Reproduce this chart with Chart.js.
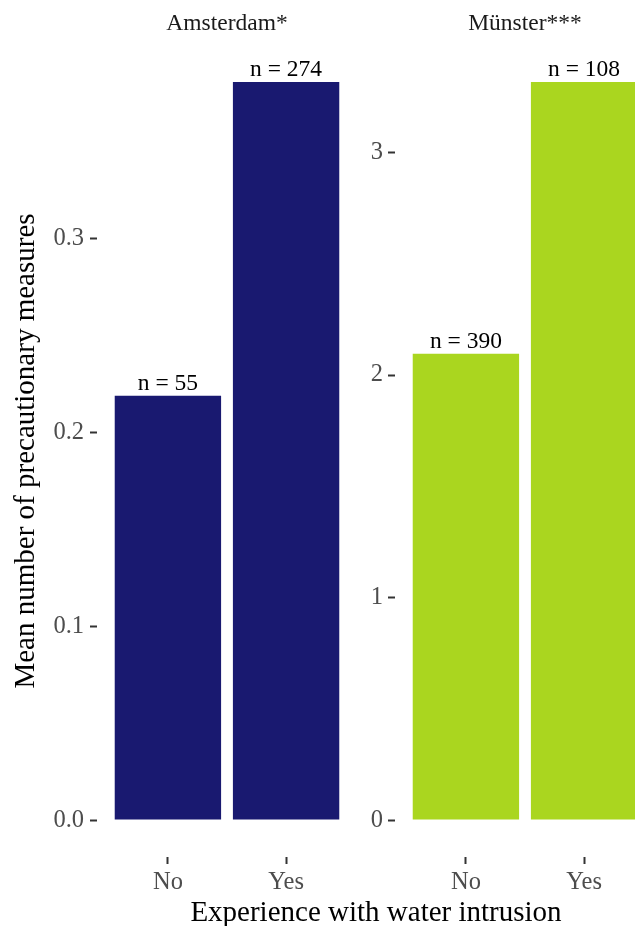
<!DOCTYPE html>
<html>
<head>
<meta charset="utf-8">
<script src="https://cdn.jsdelivr.net/npm/chart.js@4"></script>
<style>
  html, body { margin: 0; padding: 0; overflow: hidden; background: #fff; }
  #wrap { position: relative; width: 635px; height: 926px; overflow: hidden; }
  #wrap canvas { position: absolute; top: 0; }
  #xTitle {
    position: absolute; left: 97px; width: 558px; top: 896px;
    text-align: center; font: 29px "Liberation Serif", serif; line-height: 30px; color: #000;
  }
</style>
</head>
<body>
<div id="wrap">
  <canvas id="chartA" width="360" height="926" style="left:0"></canvas>
  <canvas id="chartB" width="360" height="926" style="left:298px"></canvas>
  <div id="xTitle">Experience with water intrusion</div>
</div>
<script>
// data
const categories = ['No', 'Yes'];
const cities = ['Amsterdam*', 'Münster***'];
const meansAmsterdam = [0.219, 0.381];
const meansMuenster = [2.096, 3.317];
const nAmsterdam = [55, 274];
const nMuenster = [390, 108];
const ticksAmsterdam = [0.0, 0.1, 0.2, 0.3];
const ticksMuenster = [0, 1, 2, 3];

const SERIF = '"Liberation Serif", "Times New Roman", serif';
const TICK_GREY = '#4d4d4d';

// writes "n = .." on top of each bar
const nLabelPlugin = {
    id: 'nLabels',
    afterDatasetsDraw(chart, args, opts) {
        const ctx = chart.ctx;
        const meta = chart.getDatasetMeta(0);
        ctx.save();
        ctx.font = '23.5px ' + SERIF;
        ctx.fillStyle = '#000';
        ctx.textAlign = 'center';
        ctx.textBaseline = 'bottom';
        meta.data.forEach((bar, i) => {
            ctx.fillText('n = ' + opts.counts[i], bar.x, bar.y);
        });
        ctx.restore();
    }
};

function makePanel(canvasId, title, means, counts, yTicks, color, opts) {
    const top = Math.max(...means);
    const ctx = document.getElementById(canvasId).getContext('2d');
    return new Chart(ctx, {
        type: 'bar',
        data: {
            datasets: [{
                data: means.map((v, i) => ({ x: i + 1, y: v })),
                backgroundColor: color,
                borderWidth: 0,
                barPercentage: 0.9,
                categoryPercentage: 1
            }]
        },
        options: {
            responsive: false,
            animation: false,
            layout: { padding: { left: 0, right: 3, top: 0, bottom: 0 } },
            plugins: {
                legend: { display: false },
                tooltip: { enabled: false },
                title: {
                    display: true,
                    text: title,
                    fullSize: false,
                    color: '#1a1a1a',
                    font: { family: SERIF, size: 23.5, weight: 'normal' },
                    padding: { top: 10, bottom: 6.8 }
                },
                nLabels: { counts: counts }
            },
            scales: {
                x: {
                    type: 'linear',
                    offset: false,
                    min: 0.4,
                    max: 2.6,
                    afterBuildTicks: (s) => { s.ticks = categories.map((c, i) => ({ value: i + 1 })); },
                    afterFit: (s) => { s.height = 69; },
                    ticks: {
                        callback: (v) => categories[v - 1],
                        color: TICK_GREY,
                        font: { family: SERIF, size: 24.5 },
                        padding: 3.5,
                        maxRotation: 0
                    },
                    grid: { offset: false, drawOnChartArea: false, tickLength: 7, tickColor: '#333', tickWidth: 2 },
                    border: { display: false }
                },
                y: {
                    min: -0.05 * top,
                    max: 1.05 * top,
                    afterBuildTicks: (s) => { s.ticks = yTicks.map(v => ({ value: v })); },
                    afterFit: (s) => { s.width = 97; },
                    ticks: {
                        callback: (v) => opts.digits ? v.toFixed(opts.digits) : String(v),
                        color: TICK_GREY,
                        font: { family: SERIF, size: 24.5 },
                        padding: opts.tickPad
                    },
                    grid: { drawOnChartArea: false, tickLength: 7, tickColor: '#333', tickWidth: 2 },
                    border: { display: false },
                    title: {
                        display: !!opts.yTitle,
                        text: opts.yTitle || '',
                        color: '#000',
                        font: { family: SERIF, size: 29 },
                        padding: { top: 8.6, bottom: 0 }
                    }
                }
            }
        },
        plugins: [nLabelPlugin]
    });
}

makePanel('chartA', cities[0], meansAmsterdam, nAmsterdam, ticksAmsterdam, '#191970',
    { digits: 1, tickPad: 6, yTitle: 'Mean number of precautionary measures' });
makePanel('chartB', cities[1], meansMuenster, nMuenster, ticksMuenster, '#aad61f',
    { digits: 0, tickPad: 5 });
</script>
</body>
</html>
